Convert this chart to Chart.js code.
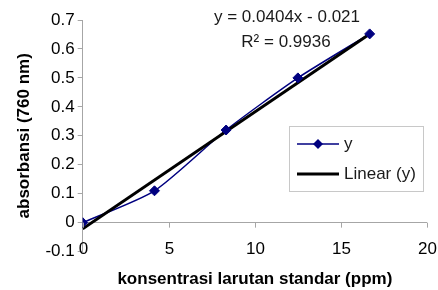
<!DOCTYPE html>
<html>
<head>
<meta charset="utf-8">
<script src="https://cdn.jsdelivr.net/npm/chart.js@4"></script>
<style>
    html, body { margin: 0; padding: 0; background: #fff; }
    #wrap { width: 438px; height: 290px; position: relative; }
</style>
</head>
<body>
<div id="wrap"><canvas id="lineChart"></canvas></div>
<script>
const concentrations = [0, 4.17, 8.33, 12.5, 16.67];
const absorbances = [0, 0.11, 0.32, 0.5, 0.652];
const trendX = [0, 16.67];
const trendY = [-0.021, 0.652];
const xTicks = [0, 5, 10, 15, 20];
const yTicks = [-0.1, 0, 0.1, 0.2, 0.3, 0.4, 0.5, 0.6, 0.7];
const equationLines = ['y = 0.0404x - 0.021', 'R\u00b2 = 0.9936'];
const legendLabels = ['y', 'Linear (y)'];

const FONT = '"Liberation Sans", Arial, sans-serif';
const NAVY = '#000080';
const AXIS = '#a6a6a6';

function toPoints(xs, ys) {
    return xs.map((x, i) => ({ x: x, y: ys[i] }));
}

// x axis sits on y = 0 but its labels stay at the bottom (Excel style),
// plus the trendline equation and the legend box inside the plot
const extras = {
    id: 'extras',
    afterDraw(chart) {
        const ctx = chart.ctx;
        const xs = chart.scales.x;
        const ys = chart.scales.y;
        const zeroY = ys.getPixelForValue(0);
        const labelY = ys.getPixelForValue(yTicks[0]) - 2;

        ctx.save();
        ctx.strokeStyle = AXIS;
        ctx.lineWidth = 1;
        ctx.fillStyle = '#000';
        ctx.font = '17px ' + FONT;
        ctx.textAlign = 'center';
        ctx.textBaseline = 'middle';
        xs.ticks.forEach(t => {
            const px = Math.round(xs.getPixelForValue(t.value)) + 0.5;
            ctx.beginPath();
            ctx.moveTo(px, zeroY);
            ctx.lineTo(px, zeroY + 5);
            ctx.stroke();
            ctx.fillText(String(t.value), px, labelY);
        });

        ctx.fillStyle = '#1a1a1a';
        ctx.fillText(equationLines[0], 287, 17);
        ctx.fillText(equationLines[1], 286, 42);

        // legend
        const bx = 289, by = 126, bw = 134, bh = 65;
        ctx.fillStyle = '#fff';
        ctx.fillRect(bx, by, bw, bh);
        ctx.strokeStyle = '#c8c8c8';
        ctx.strokeRect(bx + 0.5, by + 0.5, bw, bh);

        const rows = [by + 18, by + 48];
        ctx.strokeStyle = NAVY;
        ctx.lineWidth = 1.5;
        ctx.beginPath();
        ctx.moveTo(bx + 8, rows[0]);
        ctx.lineTo(bx + 50, rows[0]);
        ctx.stroke();
        ctx.fillStyle = NAVY;
        ctx.beginPath();
        ctx.moveTo(bx + 29, rows[0] - 5);
        ctx.lineTo(bx + 34, rows[0]);
        ctx.lineTo(bx + 29, rows[0] + 5);
        ctx.lineTo(bx + 24, rows[0]);
        ctx.closePath();
        ctx.fill();

        ctx.strokeStyle = '#000';
        ctx.lineWidth = 3;
        ctx.beginPath();
        ctx.moveTo(bx + 8, rows[1]);
        ctx.lineTo(bx + 50, rows[1]);
        ctx.stroke();

        ctx.fillStyle = '#1a1a1a';
        ctx.textAlign = 'left';
        legendLabels.forEach((label, i) => {
            ctx.fillText(label, bx + 55, rows[i]);
        });
        ctx.restore();
    }
};

const ctx = document.getElementById('lineChart');

new Chart(ctx, {
    type: 'line',
    data: {
        datasets: [
            {
                label: legendLabels[0],
                data: toPoints(concentrations, absorbances),
                borderColor: NAVY,
                borderWidth: 1.5,
                pointRadius: 0,
                tension: 0.22,
                order: 3
            },
            {
                label: legendLabels[1],
                data: toPoints(trendX, trendY),
                borderColor: '#000',
                borderWidth: 3,
                pointRadius: 0,
                order: 2
            },
            {
                label: legendLabels[0] + ' points',
                data: toPoints(concentrations, absorbances),
                showLine: false,
                pointStyle: 'rectRot',
                pointRadius: 5,
                pointBackgroundColor: NAVY,
                pointBorderColor: NAVY,
                order: 1
            }
        ]
    },
    options: {
        responsive: true,
        maintainAspectRatio: false,
        animation: false,
        layout: {
            padding: { left: 10, right: 11, top: 20, bottom: 0 }
        },
        plugins: {
            legend: { display: false },
            tooltip: { enabled: false }
        },
        scales: {
            x: {
                type: 'linear',
                min: xTicks[0],
                max: xTicks[xTicks.length - 1],
                afterBuildTicks: axis => {
                    axis.ticks = xTicks.map(v => ({ value: v }));
                },
                grid: { display: false },
                border: { display: false },
                ticks: { display: false },
                title: {
                    display: true,
                    text: 'konsentrasi larutan standar (ppm)',
                    color: '#000',
                    padding: { top: 10, bottom: 0 },
                    font: { family: FONT, size: 17, weight: 'bold' }
                }
            },
            y: {
                type: 'linear',
                min: yTicks[0],
                max: yTicks[yTicks.length - 1],
                afterBuildTicks: axis => {
                    axis.ticks = yTicks.map(v => ({ value: v }));
                },
                grid: {
                    color: c => (c.tick && Math.abs(c.tick.value) < 1e-9) ? AXIS : 'rgba(0,0,0,0)',
                    tickColor: AXIS,
                    tickLength: 5
                },
                border: { color: AXIS },
                ticks: {
                    color: '#000',
                    padding: 3,
                    font: { family: FONT, size: 17 },
                    callback: v => Math.abs(v) < 1e-9 ? '0' : v.toFixed(1)
                },
                title: {
                    display: true,
                    text: 'absorbansi (760 nm)',
                    color: '#000',
                    padding: { top: 4, bottom: 8 },
                    font: { family: FONT, size: 17, weight: 'bold' }
                }
            }
        }
    },
    plugins: [extras]
});
</script>
</body>
</html>
